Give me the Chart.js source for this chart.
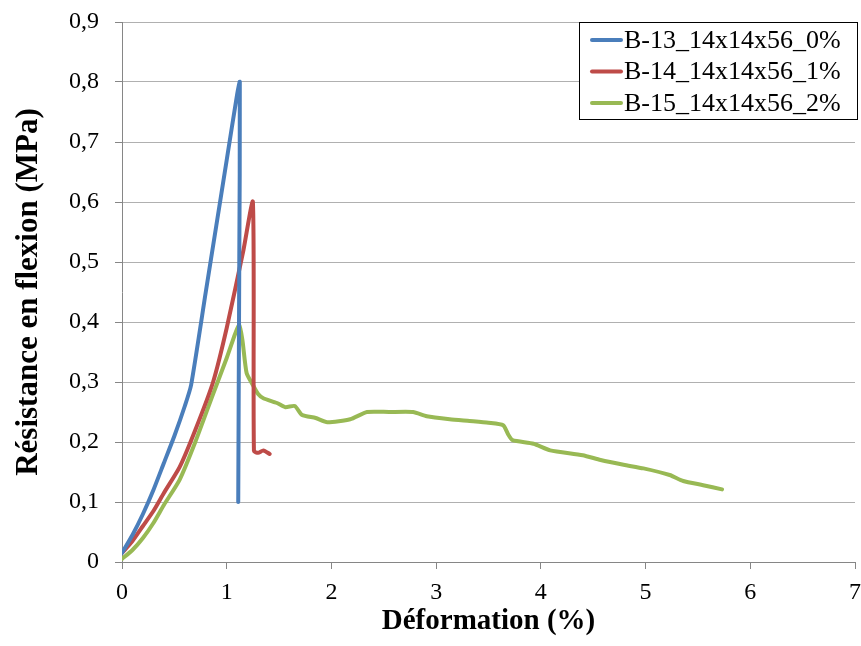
<!DOCTYPE html>
<html>
<head>
<meta charset="utf-8">
<script src="https://cdn.jsdelivr.net/npm/chart.js@4/dist/chart.umd.min.js"></script>
<style>
  html, body { margin: 0; padding: 0; background: #fff; overflow: hidden; }
  #wrap { width: 861px; height: 646px; }
</style>
</head>
<body>
<div id="wrap"><canvas id="flexChart" width="861" height="646"></canvas></div>
<script>
// series names
const seriesNames = ['B-13_14x14x56_0%', 'B-14_14x14x56_1%', 'B-15_14x14x56_2%'];

// B-13 (0 %)
const b13X = [0, 0.1, 0.2, 0.3, 0.4, 0.5, 0.6, 0.66, 0.8, 0.9, 1.0, 1.1, 1.125, 1.12, 1.115, 1.11];
const b13Y = [0.015, 0.045, 0.08, 0.12, 0.165, 0.21, 0.26, 0.295, 0.45, 0.56, 0.67, 0.78, 0.80, 0.50, 0.30, 0.10];

// B-14 (1 %)
const b14X = [0, 0.1, 0.2, 0.3, 0.4, 0.55, 0.7, 0.87, 1.0, 1.16, 1.25, 1.26, 1.3, 1.35, 1.41];
const b14Y = [0.015, 0.035, 0.06, 0.085, 0.115, 0.158, 0.22, 0.30, 0.39, 0.52, 0.60, 0.185, 0.182, 0.186, 0.18];

// B-15 (2 %)
const b15X = [0, 0.1, 0.2, 0.3, 0.4, 0.55, 0.7, 0.87, 1.0, 1.08, 1.12, 1.15, 1.19, 1.25, 1.30, 1.35, 1.48, 1.56, 1.65, 1.72, 1.85, 1.96, 2.18, 2.34, 2.55, 2.78, 2.91, 3.13, 3.32, 3.5, 3.64, 3.69, 3.73, 3.93, 4.09, 4.40, 4.57, 4.79, 4.98, 5.23, 5.36, 5.55, 5.73];
const b15Y = [0.005, 0.02, 0.04, 0.065, 0.095, 0.137, 0.20, 0.28, 0.34, 0.38, 0.395, 0.37, 0.315, 0.295, 0.28, 0.273, 0.265, 0.258, 0.26, 0.245, 0.24, 0.233, 0.238, 0.25, 0.25, 0.25, 0.243, 0.238, 0.235, 0.232, 0.228, 0.212, 0.203, 0.197, 0.186, 0.178, 0.17, 0.162, 0.156, 0.145, 0.135, 0.128, 0.121];

const seriesColors = ['#4a7ebb', '#be4b48', '#98b954'];
const serif = '"Liberation Serif", "Times New Roman", serif';

function toPoints(xs, ys) {
  return xs.map((x, i) => ({ x: x, y: ys[i] }));
}

// legend box drawn inside the plot, top right
const boxLegend = {
  id: 'boxLegend',
  afterDraw(chart) {
    const ctx = chart.ctx;
    const left = 579, top = 22, w = 278, h = 97;
    ctx.save();
    ctx.fillStyle = '#fff';
    ctx.fillRect(left, top, w, h);
    ctx.strokeStyle = '#000';
    ctx.lineWidth = 1;
    ctx.strokeRect(left + 0.5, top + 0.5, w, h);
    ctx.font = '26px ' + serif;
    ctx.textBaseline = 'middle';
    chart.data.datasets.forEach((ds, i) => {
      const y = 40 + i * 31.5;
      ctx.strokeStyle = ds.borderColor;
      ctx.lineWidth = 4;
      ctx.lineCap = 'round';
      ctx.beginPath();
      ctx.moveTo(592, y);
      ctx.lineTo(621, y);
      ctx.stroke();
      ctx.fillStyle = '#000';
      ctx.fillText(ds.label, 624, y + 1);
    });
    ctx.restore();
  }
};

const ctx = document.getElementById('flexChart').getContext('2d');

const flexChart = new Chart(ctx, {
  type: 'scatter',
  data: {
    datasets: [
      { label: seriesNames[0], data: toPoints(b13X, b13Y), borderColor: seriesColors[0] },
      { label: seriesNames[1], data: toPoints(b14X, b14Y), borderColor: seriesColors[1] },
      { label: seriesNames[2], data: toPoints(b15X, b15Y), borderColor: seriesColors[2] }
    ].map(ds => Object.assign(ds, {
      showLine: true,
      borderWidth: 4,
      pointRadius: 0,
      pointHoverRadius: 0,
      tension: 0.2,
      fill: false,
      borderJoinStyle: 'round',
      borderCapStyle: 'round'
    }))
  },
  options: {
    responsive: false,
    animation: false,
    plugins: {
      legend: { display: false },
      tooltip: { enabled: false }
    },
    layout: {
      padding: { top: 22, right: 6, left: 0, bottom: 0 }
    },
    scales: {
      x: {
        type: 'linear',
        min: 0,
        max: 7,
        afterFit(scale) {
          scale.height = 84;
          scale.paddingLeft = 0;
          scale.paddingRight = 0;
        },
        ticks: {
          stepSize: 1,
          padding: 9,
          color: '#000',
          font: { family: serif, size: 24 }
        },
        grid: { drawOnChartArea: false, tickLength: 7, color: '#868686' },
        border: { color: '#868686' },
        title: {
          display: true,
          text: 'Déformation (%)',
          color: '#000',
          padding: { top: 0, bottom: 7 },
          font: { family: serif, size: 29, weight: 'bold' }
        }
      },
      y: {
        min: 0,
        max: 0.9,
        afterFit(scale) {
          scale.width = 122;
          scale.paddingTop = 0;
          scale.paddingBottom = 0;
        },
        ticks: {
          stepSize: 0.1,
          padding: 16,
          color: '#000',
          font: { family: serif, size: 24 },
          callback: v => (Math.round(v * 10) === 0 ? '0' : v.toFixed(1).replace('.', ','))
        },
        grid: { color: '#b0b0b0', tickLength: 7, tickColor: '#868686' },
        border: { color: '#868686' },
        title: {
          display: true,
          text: 'Résistance en flexion (MPa)',
          color: '#000',
          padding: { top: 10, bottom: 0 },
          font: { family: serif, size: 31, weight: 'bold' }
        }
      }
    }
  },
  plugins: [boxLegend]
});
</script>
</body>
</html>
